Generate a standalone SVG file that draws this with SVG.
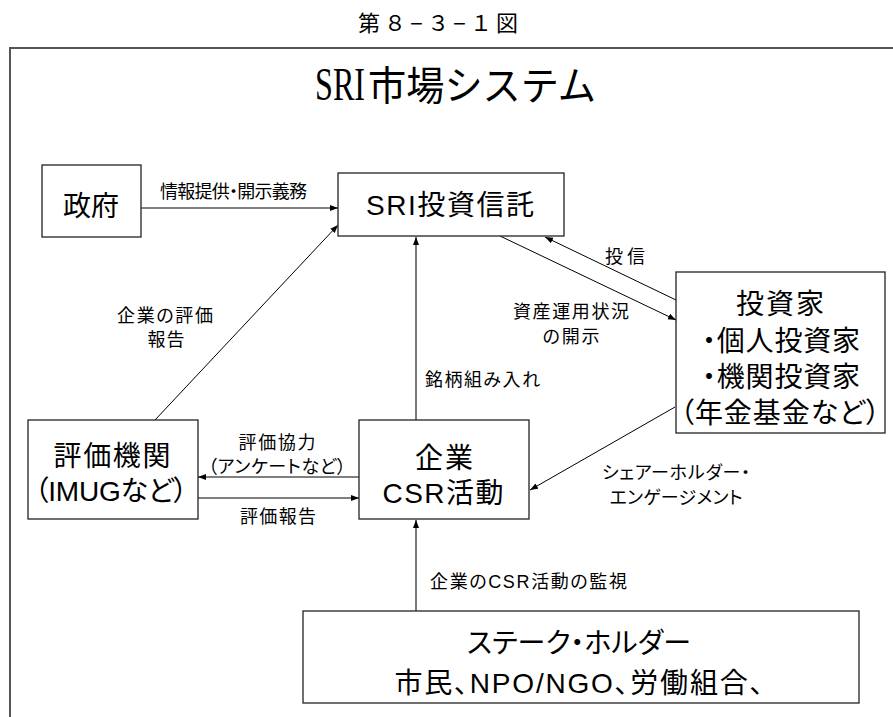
<svg xmlns="http://www.w3.org/2000/svg" width="893" height="717" viewBox="0 0 893 717">
<style>
.bg{fill:#ffffff}
.frame{fill:none;stroke:#555555;stroke-width:2}
.box{fill:#ffffff;stroke:#222222;stroke-width:1.3}
.t{font-family:"Liberation Sans","Noto Sans CJK JP",sans-serif;fill:#000000;font-feature-settings:"palt"}
.big{font-size:28px;text-anchor:middle}
.lab{font-size:18px}
.mid{text-anchor:middle}
.ln{fill:none;stroke:#000000;stroke-width:1}
.lg{fill:none;stroke:#7a7a7a;stroke-width:2}
.lh{fill:none;stroke:#555555;stroke-width:1.5}
</style>
<defs>
<marker id="ah" markerUnits="userSpaceOnUse" markerWidth="9" markerHeight="7" refX="8" refY="3.5" orient="auto">
<path d="M0,0.5 L8,3.5 L0,6.5 z" fill="#000000"/>
</marker>
</defs>
<rect class="bg" x="0" y="0" width="893" height="717"/>
<text class="t mid" x="438" y="31" font-size="22" textLength="160">第８−３−１図</text>
<rect class="frame" x="10" y="48" width="900" height="700"/>
<g id="title">
<text transform="translate(315,100) scale(0.7,1)" x="0" y="0" font-family="Liberation Serif, serif" font-size="46">SRI</text>
<text transform="translate(368,100) scale(0.955,1)" x="0" y="0" font-family="Liberation Sans, Noto Sans CJK JP, sans-serif" font-size="40">市場システム</text>
</g>
<g id="connectors">
<line class="ln" x1="141" y1="208" x2="338" y2="208" marker-end="url(#ah)"/>
<line class="ln" x1="155" y1="420" x2="338" y2="225" marker-end="url(#ah)"/>
<line class="lg" x1="416" y1="420" x2="416" y2="237" marker-end="url(#ah)"/>
<line class="ln" x1="500" y1="236" x2="676" y2="320" marker-end="url(#ah)"/>
<line class="ln" x1="676" y1="300" x2="545" y2="237" marker-end="url(#ah)"/>
<line class="lh" x1="359" y1="477" x2="198" y2="477" marker-end="url(#ah)"/>
<line class="lh" x1="198" y1="498" x2="359" y2="498" marker-end="url(#ah)"/>
<line class="ln" x1="675" y1="407" x2="530" y2="490" marker-end="url(#ah)"/>
<line class="lg" x1="416" y1="611" x2="416" y2="520" marker-end="url(#ah)"/>
<text class="t lab" x="160" y="198" font-size="16" textLength="147">情報提供・開示義務</text>
<text class="t lab mid" x="165" y="322" textLength="96">企業の評価</text>
<text class="t lab mid" x="166" y="346" textLength="37">報告</text>
<text class="t lab mid" x="625" y="263" textLength="40">投信</text>
<text class="t lab mid" x="571" y="318" textLength="116">資産運用状況</text>
<text class="t lab mid" x="571" y="343" textLength="57">の開示</text>
<text class="t lab" x="425" y="386" textLength="115">銘柄組み入れ</text>
<text class="t lab mid" x="277" y="449" textLength="77">評価協力</text>
<text class="t lab mid" x="277" y="473" textLength="138">（アンケートなど）</text>
<text class="t lab mid" x="278" y="523" textLength="76">評価報告</text>
<text class="t lab mid" x="676" y="479" font-size="17" textLength="148">シェアーホルダー・</text>
<text class="t lab mid" x="676" y="504" font-size="17" textLength="133">エンゲージメント</text>
<text class="t lab" x="430" y="588" textLength="197">企業のCSR活動の監視</text>
</g>
<g id="n-gov">
<rect class="box" x="42" y="165" width="99" height="72"/>
<text class="t big" x="91" y="216">政府</text>
</g>
<g id="n-sri">
<rect class="box" x="338" y="173" width="226" height="63"/>
<text class="t big" x="450" y="215" textLength="168">SRI投資信託</text>
</g>
<g id="n-investor">
<rect class="box" x="676" y="272" width="209" height="161"/>
<text class="t big" x="780" y="314" textLength="88">投資家</text>
<text class="t big" x="781" y="351" textLength="158">・個人投資家</text>
<text class="t big" x="781" y="387" textLength="158">・機関投資家</text>
<text class="t big" x="780" y="423" textLength="200">（年金基金など）</text>
</g>
<g id="n-rating">
<rect class="box" x="28" y="420" width="170" height="99"/>
<text class="t big" x="112" y="466" textLength="117">評価機関</text>
<text class="t big" x="111" y="501" textLength="153">（IMUGなど）</text>
</g>
<g id="n-company">
<rect class="box" x="359" y="420" width="170" height="99"/>
<text class="t big" x="444" y="468" textLength="58">企業</text>
<text class="t big" x="443" y="503" textLength="121">CSR活動</text>
</g>
<g id="n-stake">
<rect class="box" x="303" y="611" width="556" height="92"/>
<text class="t big" x="579" y="653" textLength="224">ステーク・ホルダー</text>
<text class="t big" x="579" y="693" textLength="369">市民、NPO/NGO、労働組合、</text>
</g>
</svg>
